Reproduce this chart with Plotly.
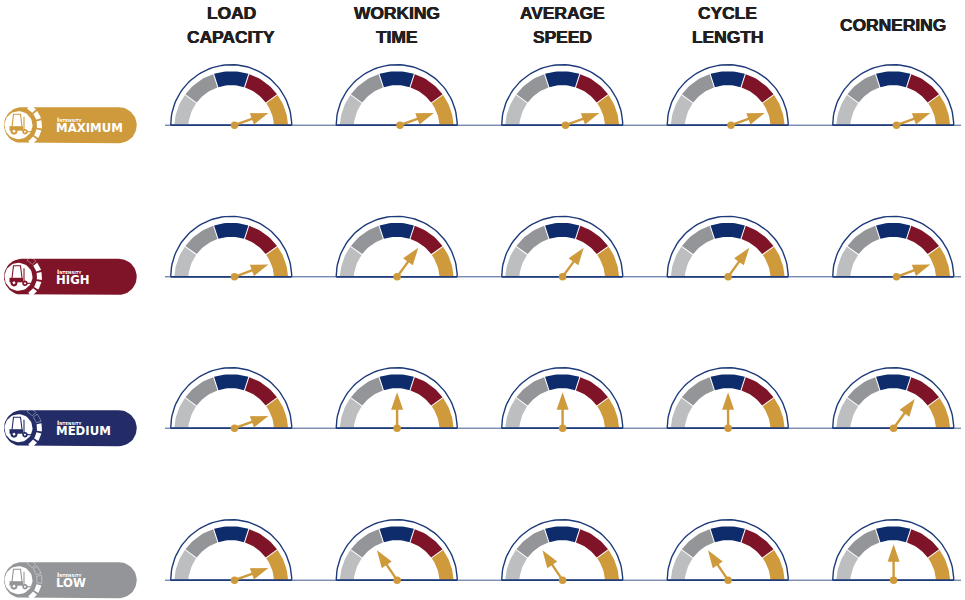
import math
import plotly.graph_objects as go

# ---------- data ----------
METRICS = ["LOAD<br>CAPACITY", "WORKING<br>TIME", "AVERAGE<br>SPEED", "CYCLE<br>LENGTH", "CORNERING"]
INTENSITIES = ["MAXIMUM", "HIGH", "MEDIUM", "LOW"]
SUBTITLE = "Intensity"
# needle direction, degrees (0 = right end of the dial, 180 = left end)
NEEDLE_MAXIMUM = [20, 20, 20, 20, 20]
NEEDLE_HIGH = [20, 54, 54, 54, 20]
NEEDLE_MEDIUM = [20, 90, 90, 90, 54]
NEEDLE_LOW = [20, 124, 124, 124, 90]
# dial: five equal bands, left to right
BAND_SHARES = [1, 1, 1, 1, 1]
BAND_COLORS = ["#BCBEC0", "#939598", "#0E2C6B", "#7F1429", "#CE9A3C"]
PILL_COLORS = ["#CE9A3C", "#7F1429", "#232C66", "#939598"]
ACTIVE_TICKS = [5, 4, 3, 2]

NEEDLES = [NEEDLE_MAXIMUM, NEEDLE_HIGH, NEEDLE_MEDIUM, NEEDLE_LOW]

# ---------- layout constants (pixels) ----------
COL_X = [231.2, 396.7, 562.2, 727.7, 893.2]
ROW_Y = [125.2, 276.8, 428.2, 580.2]
NAVY = "#1D3A7A"
GOLD = "#CE9A3C"
HEAD_SHADOW = "0.35px 0 0 #231F20, -0.35px 0 0 #231F20"


def arc(cx, cy, r, a0, a1, n=24):
    return [(cx + r * math.cos(math.radians(a0 + (a1 - a0) * i / n)),
             cy - r * math.sin(math.radians(a0 + (a1 - a0) * i / n))) for i in range(n + 1)]


def poly_trace(polys, color, closed=True):
    xs, ys = [], []
    for p in polys:
        pts = list(p) + ([p[0]] if closed else [])
        xs += [q[0] for q in pts] + [None]
        ys += [q[1] for q in pts] + [None]
    return go.Scatter(x=xs, y=ys, mode="lines", fill="toself", fillcolor=color,
                      line=dict(width=0, color=color), hoverinfo="skip")


def line_trace(segs, color, width, opacity=1.0):
    xs, ys = [], []
    for p in segs:
        xs += [q[0] for q in p] + [None]
        ys += [q[1] for q in p] + [None]
    return go.Scatter(x=xs, y=ys, mode="lines", opacity=opacity,
                      line=dict(width=width, color=color), hoverinfo="skip")


def band_polys(cx, cy):
    """Bands are centred 3px below the baseline and clipped by it."""
    total = sum(BAND_SHARES)
    out = [[] for _ in BAND_SHARES]
    c_y = cy + 3
    r_in, r_out = 43.0, 57.0
    start = 180.0
    for i, s in enumerate(BAND_SHARES):
        end = start - 180.0 * s / total
        a0_o, a1_o = start - 0.5, end + 0.5
        a0_i, a1_i = start - 0.7, end + 0.7
        if i == 0:
            a0_o = 180 - math.degrees(math.asin(3 / r_out))
            a0_i = 180 - math.degrees(math.asin(3 / r_in))
        if i == len(BAND_SHARES) - 1:
            a1_o = math.degrees(math.asin(3 / r_out))
            a1_i = math.degrees(math.asin(3 / r_in))
        out[i] = arc(cx, c_y, r_out, a0_o, a1_o, 14) + arc(cx, c_y, r_in, a1_i, a0_i, 14)
        start = end
    return out


def needle_poly(px, py, deg, length=36.0, head=17.5, half=6.0, shaft=1.2):
    a = math.radians(deg)
    ux, uy = math.cos(a), -math.sin(a)
    nx, ny = -uy, ux
    b = length - head
    def P(t, s):
        return (px + ux * t + nx * s, py + uy * t + ny * s)
    return [P(0, shaft), P(b, shaft), P(b, half), P(length, 0), P(b, -half), P(b, -shaft), P(0, -shaft)]


def pill_poly(x0, x1, cy, r):
    return arc(x1 - r, cy, r, 90, -90, 24) + arc(x0 + r, cy, r, 270, 90, 24)


fig = go.Figure()
annotations = []

# baseline, thin across whole width then heavier inside every dial
for cy in ROW_Y:
    fig.add_trace(line_trace([[(165, cy), (961, cy)]], "#41598F", 1))

band_bucket = {i: [] for i in range(len(BAND_COLORS))}
for cx in COL_X:
    for cy in ROW_Y:
        for i, p in enumerate(band_polys(cx, cy)):
            band_bucket[i].append(p)
for i, c in enumerate(BAND_COLORS):
    fig.add_trace(poly_trace(band_bucket[i], c))

arcs, bases = [], []
for cx in COL_X:
    for cy in ROW_Y:
        arcs.append(arc(cx, cy, 60.5, 180, 0, 60))
        bases.append([(cx - 60.5, cy), (cx + 60.5, cy)])
fig.add_trace(line_trace(arcs, NAVY, 1.4))
fig.add_trace(line_trace(bases, NAVY, 1.8))

# needles
needle_polys, dots_x, dots_y = [], [], []
for r, cy in enumerate(ROW_Y):
    for c, cx in enumerate(COL_X):
        deg = NEEDLES[r][c]
        px = cx + (3.3 if deg < 30 else 0.4)
        needle_polys.append(needle_poly(px, cy, deg))
        dots_x.append(px)
        dots_y.append(cy)
fig.add_trace(poly_trace(needle_polys, GOLD))
fig.add_trace(go.Scatter(x=dots_x, y=dots_y, mode="markers", hoverinfo="skip",
                         marker=dict(size=7.5, color=GOLD, line=dict(width=0))))

# pills, icons
for r, cy in enumerate(ROW_Y):
    col = PILL_COLORS[r]
    fig.add_trace(poly_trace([pill_poly(4, 136.7, cy, 18)], col))
    icx, icy = 18.5, cy
    fig.add_trace(poly_trace([arc(icx, icy, 14, 0, 360, 48)], "#FFFFFF"))
    # outer tick segments, top to bottom
    seg_on, seg_off = [], []
    n = 5
    for k in range(n):
        a1 = 62 - k * 25
        a0 = a1 - 20
        poly = arc(icx, icy, 23.5, a1, a0, 5) + arc(icx, icy, 18.5, a0, a1, 5)
        if k >= n - ACTIVE_TICKS[r]:
            seg_on.append(poly)
        else:
            seg_off.append(poly + [poly[0]])
    if seg_on:
        fig.add_trace(poly_trace(seg_on, "#FFFFFF"))
    if seg_off:
        fig.add_trace(line_trace(seg_off, "#FFFFFF", 0.7, 0.55))
    # forklift glyph
    ox, oy = icx, icy
    def T(pts):
        return [(ox + a, oy + b) for a, b in pts]
    fig.add_trace(line_trace([
        T([(-6.5, 1.5), (-5, -11), (2, -11), (3.5, 1)]),   # cab
        T([(5.5, -8.5), (5.5, 6.5)]),                       # mast
        T([(5.5, 6.5), (16, 6.5)]),                         # fork
    ], col, 1.1))
    fig.add_trace(poly_trace([T([(-9, 1), (4.5, 1), (4.5, 5.5), (-9, 5.5)])], col))
    fig.add_trace(poly_trace([arc(ox - 4.5, oy + 6, 3.6, 0, 360, 20), arc(ox + 6.5, oy + 6.5, 2.8, 0, 360, 20)], col))
    fig.add_trace(poly_trace([arc(ox - 4.5, oy + 6, 1.5, 0, 360, 16), arc(ox + 6.5, oy + 6.5, 1.1, 0, 360, 16)], "#FFFFFF"))
    # pill text
    annotations.append(dict(x=54.5, y=cy - 5.6, text=SUBTITLE, xanchor="left", yanchor="middle", showarrow=False,
                            font=dict(family="DejaVu Sans", size=6, color="#FFFFFF", weight="bold",
                                      variant="small-caps")))
    annotations.append(dict(x=53.8, y=cy + 2.8, text=INTENSITIES[r], xanchor="left", yanchor="middle", showarrow=False,
                            font=dict(family="DejaVu Sans", size=11.7, color="#FFFFFF", weight="bold")))

# column headers
for cx, m in zip(COL_X, METRICS):
    lines = m.split("<br>")
    for i, t in enumerate(lines):
        y = 25.1 + (i - (len(lines) - 1) / 2) * 23.6
        annotations.append(dict(x=cx, y=y, text=t, xanchor="center", yanchor="middle", showarrow=False,
                                font=dict(family="Liberation Sans", size=17.4, color="#231F20", weight="bold",
                                          shadow=HEAD_SHADOW)))

fig.update_layout(
    width=965, height=600, margin=dict(l=0, r=0, t=0, b=0), showlegend=False,
    paper_bgcolor="#FFFFFF", plot_bgcolor="#FFFFFF",
    xaxis=dict(range=[0, 965], visible=False, fixedrange=True),
    yaxis=dict(range=[600, 0], visible=False, fixedrange=True),
    annotations=annotations,
)
fig.write_html("out.html", config={"displayModeBar": False},
               post_script="document.body.style.margin='0';document.documentElement.style.overflow='hidden';")
